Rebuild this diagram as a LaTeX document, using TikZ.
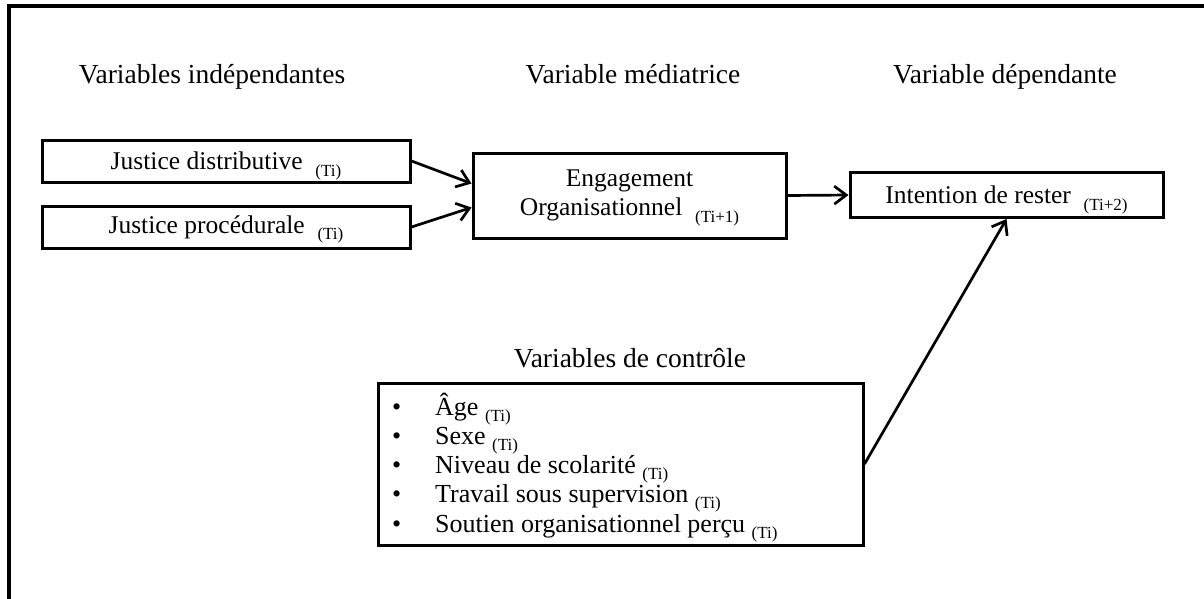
\documentclass[tikz,border=0pt]{standalone}
\usepackage{fontspec}
\setmainfont{Liberation Serif}
\usetikzlibrary{arrows.meta}

\newcommand{\indice}[1]{\raisebox{-6.5pt}[0pt][0pt]{\fontsize{17}{17}\selectfont (#1)}}

\begin{document}
\begin{tikzpicture}[x=1pt, y=-1pt]
        \tikzstyle{boite}=[draw=black, line width=3pt, rectangle, inner sep=2pt, font=\fontsize{25.5}{29}\selectfont]
        \tikzstyle{titre}=[anchor=base, font=\fontsize{27.5}{30}\selectfont]
        \tikzstyle{item}=[anchor=base west, inner sep=0pt, font=\fontsize{26}{29}\selectfont]
        \tikzstyle{fleche}=[line width=2.7pt, -{Straight Barb[length=12pt, width=18pt]}]

        \useasboundingbox (0, 0) rectangle (1204, 598);
        \draw [line width=3.5pt] (1210, 6) -- (9, 6) -- (9, 604);

        \draw node at (212, 83) [titre] (t1) {Variables indépendantes};
        \draw node at (633, 83) [titre] (t2) {Variable médiatrice};
        \draw node at (1005, 83) [titre] (t3) {Variable dépendante};
        \draw node at (630, 367) [titre] (t4) {Variables de contrôle};

        \draw node at (226, 161) [boite, minimum width=368pt, minimum height=42pt] (jd) {Justice distributive\ \ \indice{Ti}};
        \draw node at (226, 227) [boite, minimum width=368pt, minimum height=42pt] (jp) {Justice procédurale\ \ \indice{Ti}};
        \draw node at (629.5, 195.5) [boite, minimum width=313pt, minimum height=85pt, align=center] (eo) {Engagement\\Organisationnel\ \ \indice{Ti+1}};
        \draw node at (1006.5, 195) [boite, minimum width=313pt, minimum height=45pt] (ir) {Intention de rester\ \ \indice{Ti+2}};
        \draw node at (620.5, 464) [boite, minimum width=485pt, minimum height=162pt] (vc) {};

        \draw node at (392, 415) [item] (b1) {•};
        \draw node at (392, 444) [item] (b2) {•};
        \draw node at (392, 473) [item] (b3) {•};
        \draw node at (392, 502) [item] (b4) {•};
        \draw node at (392, 532) [item] (b5) {•};
        \draw node at (435, 415) [item] (v1) {Âge \indice{Ti}};
        \draw node at (435, 444) [item] (v2) {Sexe \indice{Ti}};
        \draw node at (435, 473) [item] (v3) {Niveau de scolarité \indice{Ti}};
        \draw node at (435, 502) [item] (v4) {Travail sous supervision \indice{Ti}};
        \draw node at (435, 532) [item] (v5) {Soutien organisationnel perçu \indice{Ti}};

        \draw [fleche] (jd.east) to ([yshift=12pt]eo.west);
        \draw [fleche] (jp.east) to ([yshift=-12pt]eo.west);
        \draw [fleche] (eo.east) to (ir.west);
        \draw [fleche] (vc.east) to (ir.south);
    \end{tikzpicture}
\end{document}
